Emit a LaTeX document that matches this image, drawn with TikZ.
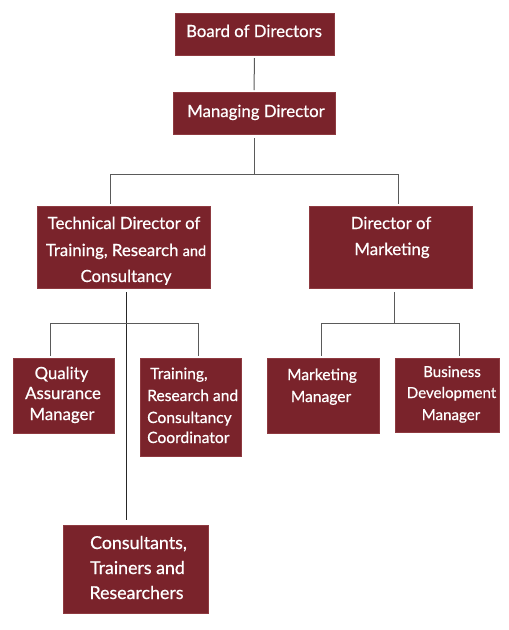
\documentclass[tikz,border=0pt]{standalone}
\usepackage{fontspec}
\setmainfont{Lato}[FakeBold=0.6]
\definecolor{boxred}{HTML}{7A232B}
\definecolor{boxedge}{HTML}{8E3A40}
\definecolor{linegray}{HTML}{5A5A5A}
\begin{document}
\begin{tikzpicture}[x=1pt,y=-1pt,
  orgbox/.style={draw=boxedge,line width=0.8pt,fill=boxred,inner sep=0pt,outer sep=0pt},
  lbl/.style={text=white,font=\fontsize{16.8}{18}\selectfont,inner sep=0pt,anchor=base},
  lblsm/.style={lbl,font=\fontsize{15.6}{17}\selectfont},
  lblxs/.style={lbl,font=\fontsize{15.1}{17}\selectfont},
  lblbig/.style={lbl,font=\fontsize{17.8}{19}\selectfont},
  conn/.style={draw=linegray,line width=1pt},
  conndark/.style={draw=black!85,line width=1pt}]
\useasboundingbox (0,0) rectangle (509,630);
% boxes
\node[orgbox,minimum width=159pt,minimum height=42pt] (board) at (254.5,34) {};
\node[orgbox,minimum width=162pt,minimum height=42pt] (md) at (254,113) {};
\node[orgbox,minimum width=173pt,minimum height=82pt] (tech) at (123.5,247) {};
\node[orgbox,minimum width=163pt,minimum height=82pt] (dom) at (390.5,247) {};
\node[orgbox,minimum width=101pt,minimum height=75pt] (qa) at (63.5,395.5) {};
\node[orgbox,minimum width=101pt,minimum height=98pt] (trc) at (190.5,407) {};
\node[orgbox,minimum width=112pt,minimum height=75pt] (mm) at (323,395.5) {};
\node[orgbox,minimum width=104pt,minimum height=74pt] (bdm) at (447,395) {};
\node[orgbox,minimum width=145pt,minimum height=88pt] (cons) at (135.5,569) {};
% texts
\node[lbl] (t-board) at (254,37) {Board of Directors};
\node[lbl] (t-md) at (256,117) {Managing Director};
\node[lbl] (t-tech1) at (124,229) {Technical Director of};
\node[lbl] (t-tech2) at (126,256) {Training, Research {\fontsize{14.5}{16}\selectfont and}};
\node[lbl] (t-tech3) at (126,282) {Consultancy};
\node[lbl] (t-dom1) at (391,229) {Director of};
\node[lbl] (t-dom2) at (392,255) {Marketing};
\node[lbl] (t-qa1) at (61.5,379) {Quality};
\node[lbl] (t-qa2) at (63,399) {Assurance};
\node[lbl] (t-qa3) at (62,420) {Manager};
\node[lblsm,anchor=base west] (t-trc1) at (150,379) {Training,};
\node[lblsm,anchor=base west] (t-trc2) at (147,401) {Research and};
\node[lblsm,anchor=base west] (t-trc3) at (147,423) {Consultancy};
\node[lblsm,anchor=base west] (t-trc4) at (147,443) {Coordinator};
\node[lblsm] (t-mm1) at (322,380) {Marketing};
\node[lblsm] (t-mm2) at (321,402) {Manager};
\node[lblxs] (t-bdm1) at (452,377) {Business};
\node[lblxs] (t-bdm2) at (451.5,398) {Development};
\node[lblxs] (t-bdm3) at (451,420) {Manager};
\node[lblbig] (t-cons1) at (138.5,549) {Consultants,};
\node[lblbig] (t-cons2) at (137.5,574) {Trainers and};
\node[lblbig] (t-cons3) at (136.5,599) {Researchers};
% junction coordinates
\coordinate (j1) at (254,174);
\coordinate (j2) at (126,323);
\coordinate (j3) at (394,323);
% connectors
\draw[conn] ([yshift=-3pt]board.south) -- ([yshift=2pt]md.north);
\draw[conn] ([yshift=-4pt]md.south) -- (j1);
\draw[conn] (j1) -| ([xshift=-13.5pt,yshift=2pt]tech.north);
\draw[conn] (j1) -| ([xshift=7.5pt,yshift=2pt]dom.north);
\draw[conndark] ([xshift=2.5pt,yshift=-4pt]tech.south) -- ([xshift=-9.5pt,yshift=5pt]cons.north);
\draw[conn] (j2) -| ([xshift=-13.5pt,yshift=2pt]qa.north);
\draw[conn] (j2) -| ([xshift=7.5pt,yshift=2pt]trc.north);
\draw[conn] ([xshift=3.5pt,yshift=-4pt]dom.south) -- (j3);
\draw[conn] (j3) -| ([xshift=-2pt,yshift=2pt]mm.north);
\draw[conn] (j3) -| ([xshift=12pt,yshift=2pt]bdm.north);
\end{tikzpicture}
\end{document}
